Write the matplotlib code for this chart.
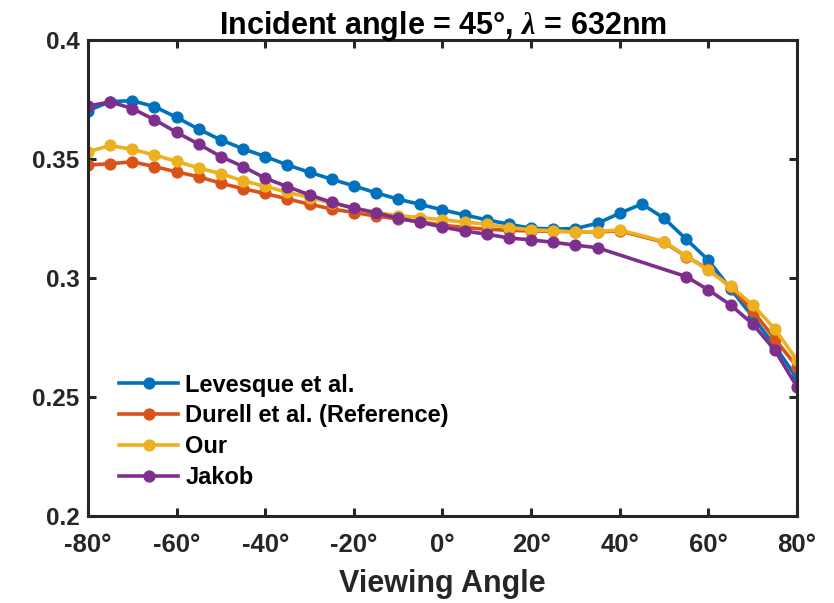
import numpy as np
import matplotlib
matplotlib.use("Agg")
import matplotlib.pyplot as plt

angles = list(range(-80, 81, 5))

levesque = [0.3703, 0.3741, 0.3745, 0.3720, 0.3675, 0.3625, 0.3580, 0.3543, 0.3510,
            0.3475, 0.3444, 0.3415, 0.3387, 0.3358, 0.3331, 0.3309, 0.3286, 0.3265,
            0.3244, 0.3226, 0.3209, 0.3206, 0.3207, 0.3230, 0.3272, 0.3311, 0.3251,
            0.3163, 0.3075, 0.2955, 0.2837, 0.2715, 0.2578]

durell_angles = [a for a in angles if a != 45]
durell = [0.3475, 0.3480, 0.3488, 0.3468, 0.3446, 0.3425, 0.3398, 0.3375, 0.3355,
          0.3332, 0.3310, 0.3290, 0.3275, 0.3260, 0.3248, 0.3236, 0.3222, 0.3212,
          0.3205, 0.3200, 0.3198, 0.3196, 0.3195, 0.3193, 0.3198, 0.3150,
          0.3090, 0.3038, 0.2962, 0.2862, 0.2744, 0.2627]

our_angles = [a for a in angles if a != 45]
our = [0.3530, 0.3557, 0.3540, 0.3517, 0.3490, 0.3462, 0.3438, 0.3408, 0.3385,
       0.3360, 0.3338, 0.3315, 0.3295, 0.3275, 0.3262, 0.3254, 0.3244, 0.3235,
       0.3226, 0.3212, 0.3202, 0.3199, 0.3192, 0.3195, 0.3202, 0.3153,
       0.3092, 0.3032, 0.2965, 0.2887, 0.2786, 0.2655]

jakob_angles = [a for a in angles if a not in (40, 45, 50)]
jakob = [0.3722, 0.3740, 0.3712, 0.3665, 0.3612, 0.3562, 0.3510, 0.3468, 0.3419,
         0.3384, 0.3349, 0.3318, 0.3293, 0.3274, 0.3251, 0.3234, 0.3214, 0.3197,
         0.3184, 0.3168, 0.3160, 0.3150, 0.3138, 0.3127, 0.3006, 0.2950, 0.2887,
         0.2807, 0.2697, 0.2543]

labels = ["Levesque et al.", "Durell et al. (Reference)", "Our", "Jakob"]
colors = ["#0072BD", "#D95319", "#EDB120", "#7E2F8E"]

xticks = [-80, -60, -40, -20, 0, 20, 40, 60, 80]
yticks = [0.2, 0.25, 0.3, 0.35, 0.4]
ytick_labels = ["0.2", "0.25", "0.3", "0.35", "0.4"]

plt.rcParams['font.family'] = ['Liberation Sans', 'DejaVu Sans']
plt.rcParams['font.weight'] = 'bold'
plt.rcParams['mathtext.fontset'] = 'custom'
plt.rcParams['mathtext.it'] = 'Liberation Serif:italic'

fig = plt.figure(figsize=(8.34, 6.03), dpi=100)
ax = fig.add_axes([0.1055, 0.1443, 0.8501, 0.7894])

axc = "#262626"
series = [(angles, levesque), (durell_angles, durell), (our_angles, our), (jakob_angles, jakob)]
for (xs, ys), lab, c in zip(series, labels, colors):
    ax.plot(xs, ys, '-o', color=c, lw=2.6, ms=7.8, label=lab)

ax.set_xlim(-80, 80)
ax.set_ylim(0.2, 0.4)
ax.set_xticks(xticks)
ax.set_xticklabels([f"{t}°" for t in xticks])
ax.set_yticks(yticks)
ax.set_yticklabels(ytick_labels)

for s in ax.spines.values():
    s.set_linewidth(2.2)
    s.set_color(axc)
ax.tick_params(direction='in', length=6, width=2.2, color=axc, labelcolor=axc,
               labelsize=17.5, top=True, right=True, pad=6)
ax.tick_params(axis='x', pad=12, labelsize=18.5)

ax.set_xlabel("Viewing Angle", fontsize=22, fontweight='bold', color=axc, labelpad=9)
ax.set_title(r"Incident angle = 45°, $\lambda$ = 632nm", fontsize=22, fontweight='bold',
             color='black', pad=4)

leg = ax.legend(loc='lower left', bbox_to_anchor=(0.014, 0.012), frameon=False,
                fontsize=17, handlelength=2.5, handletextpad=0.3, labelspacing=0.33,
                borderaxespad=0.5)
for t in leg.get_texts():
    t.set_fontweight('bold')

fig.savefig("out.png", dpi=100)
